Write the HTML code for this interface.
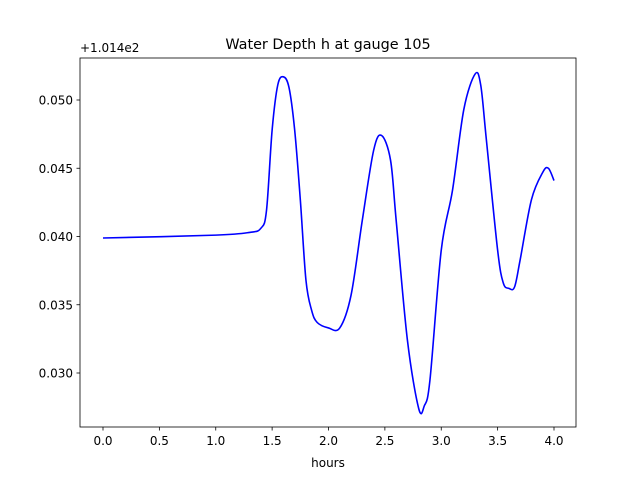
<!DOCTYPE html>
<html><head><meta charset="utf-8"><style>
body{margin:0;background:#fff;}
svg{display:block;font-family:"DejaVu Sans","Liberation Sans",sans-serif;}
</style></head><body>
<svg id="chart" width="640" height="480" viewBox="0 0 640 480" xmlns="http://www.w3.org/2000/svg">
<rect width="640" height="480" fill="#fff"/>
<text x="328" y="49" font-size="14.4" text-anchor="middle">Water Depth h at gauge 105</text>
<text x="80" y="52" font-size="12">+1.014e2</text>
<g id="ticks"></g>
<path id="line" fill="none" stroke="#0000ff" stroke-width="1.6"/>
<rect x="80" y="58" width="496" height="369" fill="none" stroke="#000" stroke-width="0.8"/>
<text x="328" y="467" font-size="12" text-anchor="middle">hours</text>
</svg>
<script>
const xTicks=[0,0.5,1.0,1.5,2.0,2.5,3.0,3.5,4.0];
const yTicks=[0.030,0.035,0.040,0.045,0.050];
const hours=[0,1.0,1.3,1.4,1.45,1.5,1.55,1.6,1.65,1.7,1.75,1.8,1.85,1.9,2.0,2.1,2.2,2.3,2.4,2.47,2.55,2.6,2.7,2.8,2.85,2.9,3.0,3.1,3.2,3.3,3.35,3.4,3.5,3.55,3.6,3.65,3.7,3.8,3.9,3.95,4.0];
const depth=[0.03989,0.0401,0.0403,0.0406,0.0419,0.0478,0.0511,0.0517,0.0509,0.0478,0.0427,0.0368,0.0346,0.0337,0.0333,0.0333,0.0357,0.0412,0.0463,0.0474,0.0456,0.0412,0.0324,0.0274,0.0276,0.0295,0.0390,0.0434,0.0493,0.0519,0.0511,0.0471,0.0390,0.0366,0.0362,0.0363,0.0383,0.0427,0.0447,0.0450,0.0441];
const xs=v=>103+v*112.75;
const ys=v=>100+(0.050-v)*13650;
const NS='http://www.w3.org/2000/svg';
const g=document.getElementById('ticks');
function mk(tag,attrs){const e=document.createElementNS(NS,tag);for(const k in attrs)e.setAttribute(k,attrs[k]);return e;}
xTicks.forEach(t=>{
  const l=mk('line',{x1:xs(t),x2:xs(t),y1:427,y2:430.5,stroke:'#000','stroke-width':0.8});
  
  
  g.appendChild(l);
  const tx=mk('text',{x:xs(t),y:445,'font-size':12,'text-anchor':'middle'});
  tx.textContent=t.toFixed(1);
  
  
  g.appendChild(tx);
});
yTicks.forEach(t=>{
  const l=mk('line',{x1:76.5,x2:80,y1:ys(t),y2:ys(t),stroke:'#000','stroke-width':0.8});
  
  
  g.appendChild(l);
  const tx=mk('text',{x:73,y:ys(t)+4.5,'font-size':12,'text-anchor':'end'});
  tx.textContent=t.toFixed(3);
  
  
  g.appendChild(tx);
});
const P=hours.map((h,i)=>[xs(h),ys(depth[i])]);
let d='M'+P[0][0]+','+P[0][1];
for(let i=0;i<P.length-1;i++){
  const p0=P[Math.max(0,i-1)],p1=P[i],p2=P[i+1],p3=P[Math.min(P.length-1,i+2)];
  const c1=[p1[0]+(p2[0]-p0[0])/6,p1[1]+(p2[1]-p0[1])/6];
  const c2=[p2[0]-(p3[0]-p1[0])/6,p2[1]-(p3[1]-p1[1])/6];
  d+=' C'+c1+' '+c2+' '+p2;
}
document.getElementById('line').setAttribute('d',d);
</script>
</body></html>
